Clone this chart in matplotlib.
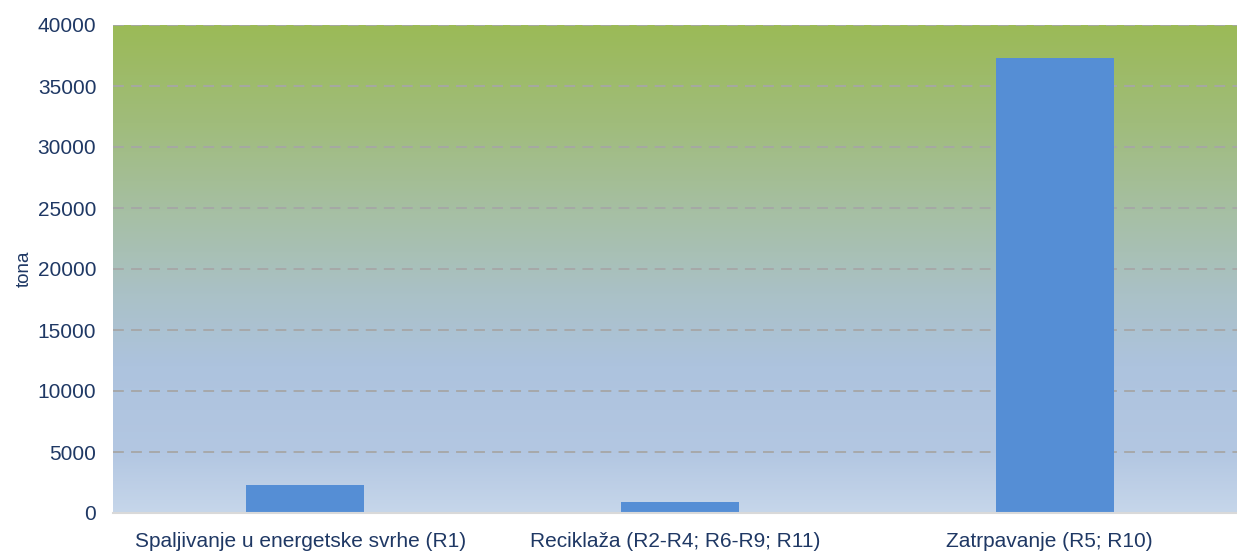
import matplotlib.pyplot as plt
import numpy as np
from matplotlib.colors import LinearSegmentedColormap

plt.rcParams['font.family'] = ['Liberation Sans', 'DejaVu Sans']

kategorije = ['Spaljivanje u energetske svrhe (R1)',
              'Reciklaža (R2-R4; R6-R9; R11)',
              'Zatrpavanje (R5; R10)']
tone = [2300, 900, 37300]
yticks = [0, 5000, 10000, 15000, 20000, 25000, 30000, 35000, 40000]

tekst = '#1F3864'

fig = plt.figure(figsize=(12.37, 5.52), dpi=100)
ax = fig.add_axes([113 / 1237, 39 / 552, 1124 / 1237, 488 / 552])

# gradijent pozadine (odozdo prema gore)
cmap = LinearSegmentedColormap.from_list('pozadina', [
    (0.0, '#C6D6EA'),
    (0.12, '#B3C7E2'),
    (0.30, '#ADC3DE'),
    (0.45, '#AAC1C6'),
    (0.62, '#A6BFA3'),
    (0.80, '#A0BC7B'),
    (1.0, '#9BBA57'),
])
grad = np.linspace(0, 1, 256).reshape(-1, 1)
ax.imshow(grad, cmap=cmap, aspect='auto', origin='lower',
          extent=[-0.5, 2.5, 0, 40000], zorder=0)

x = np.arange(len(kategorije))
ax.bar(x + 0.013, tone, width=0.315, color='#558ED5', zorder=3)

ax.set_xlim(-0.5, 2.5)
ax.set_ylim(0, 40000)
ax.set_yticks(yticks)
ax.set_yticklabels([str(v) for v in yticks])
ax.set_xticks(x)
ax.set_xticklabels(kategorije)
ax.grid(axis='y', color='#A6A6A6', linestyle=(0, (6, 4)), linewidth=1.3, zorder=1)
for s in ['top', 'right', 'left']:
    ax.spines[s].set_visible(False)
ax.spines['bottom'].set_color('#D9D9D9')
ax.spines['bottom'].set_linewidth(1.5)
ax.spines['bottom'].set_zorder(4)
ax.tick_params(axis='both', length=0, labelsize=15, colors=tekst)
ax.tick_params(axis='y', pad=12)
ax.tick_params(axis='x', pad=14)
ax.set_ylabel('tona', fontsize=13.5, color=tekst)
ax.yaxis.set_label_coords(-80 / 1124, 0.5)

fig.savefig('out.png', dpi=100)
